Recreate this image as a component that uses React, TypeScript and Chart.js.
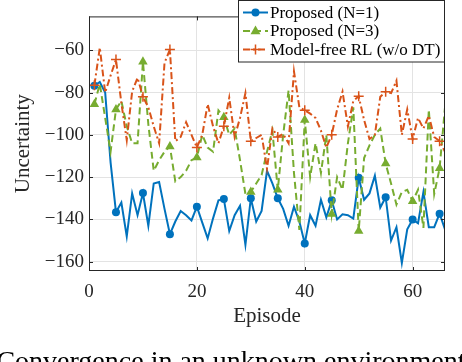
import React, { useEffect, useRef } from 'react';
import { Chart, registerables } from 'chart.js';

Chart.register(...registerables);

const episodes = [
  1, 2, 3, 4, 5, 6, 7, 8, 9, 10, 11, 12, 13, 14, 15, 16, 17, 18, 19, 20, 21, 22,
  23, 24, 25, 26, 27, 28, 29, 30, 31, 32, 33, 34, 35, 36, 37, 38, 39, 40, 41, 42, 43,
  44, 45, 46, 47, 48, 49, 50, 51, 52, 53, 54, 55, 56, 57, 58, 59, 60, 61, 62, 63, 64,
  65, 66,
];

const proposedN1 = [
  -76.8, -75, -80, -113, -136.6, -132, -148, -127.7, -138, -127.5,
  -143, -123, -122.3, -135, -147, -141, -136, -138, -140.5, -134,
  -141.5, -149, -139.5, -131, -130.4, -145.5, -138, -133.6, -152, -130,
  -141, -136, -117, -123, -130, -135, -143, -134, -141, -151.4,
  -138, -143, -130.7, -139, -131, -140, -137.6, -138, -139.6, -120.3,
  -130.7, -127.7, -119.3, -134.4, -129.5, -150, -143.7, -160.6, -144.7, -140,
  -141.8, -127, -143.7, -143.7, -137.3, -144.7,
];

const proposedN3 = [
  -85.5, -76, -92, -108, -88, -84, -96, -104, -104, -65.5,
  -95, -117, -112, -108, -105.5, -122, -120, -117, -112, -110.7,
  -100, -106, -108, -88.5, -91.7, -100, -97, -112, -128, -127,
  -123, -119, -108, -98, -126, -100, -79, -118, -145, -93,
  -120, -104, -118, -100, -137.5, -120, -126, -104, -87, -145.5,
  -111, -105, -100, -97, -113.6, -123, -133, -127, -126, -131.4,
  -126, -144, -88, -128, -115.8, -87,
];

const modelFree = [
  -76.6, -58.8, -80, -72, -64.4, -85, -102.5, -79.5, -73, -82,
  -87, -96, -104, -66, -59.6, -103, -101, -94, -100, -106,
  -100, -85.5, -96, -104, -96, -82.5, -101, -92, -80.3, -103,
  -101.5, -100, -116, -97, -101, -99.6, -104, -70, -87, -88.4,
  -90, -92, -98, -106, -100, -88, -79.6, -96, -84, -81.8,
  -93, -102, -100, -82, -79.6, -80.3, -74.4, -100, -88, -102,
  -92, -97, -91, -101, -103, -108,
];

const markerEpisodes = [1, 5, 10, 15, 20, 25, 30, 35, 40, 45, 50, 55, 60, 65];
const xTicks = [0, 20, 40, 60];
const yTicks = [-160, -140, -120, -100, -80, -60];
const seriesLabels = ['Proposed (N=1)', 'Proposed (N=3)', 'Model-free RL (w/o DT)'];
const xLabel = 'Episode';
const yLabel = 'Uncertainty';
const caption = 'Convergence in an unknown environment';

const BLUE = '#0072BD';
const GREEN = '#77AC30';
const ORANGE = '#D95319';
const INK = '#262626';
const GRID = '#e3e3e3';
const FONT = "'Liberation Serif', 'Times New Roman', serif";

const toPoints = (vals: number[]) => vals.map((v, i) => ({ x: episodes[i], y: v }));
const markerRadius = (r: number) => (ctx: any) =>
  markerEpisodes.includes(episodes[ctx.dataIndex]) ? r : 0;

function drawMarker(ctx: CanvasRenderingContext2D, kind: string, x: number, y: number, color: string) {
  ctx.save();
  ctx.fillStyle = color;
  ctx.strokeStyle = color;
  ctx.setLineDash([]);
  if (kind === 'circle') {
    ctx.beginPath();
    ctx.arc(x, y, 4, 0, Math.PI * 2);
    ctx.fill();
  } else if (kind === 'triangle') {
    const r = 5.5;
    ctx.beginPath();
    ctx.moveTo(x, y - r);
    ctx.lineTo(x + r * 0.9, y + r * 0.6);
    ctx.lineTo(x - r * 0.9, y + r * 0.6);
    ctx.closePath();
    ctx.fill();
  } else {
    ctx.lineWidth = 1.5;
    ctx.beginPath();
    ctx.moveTo(x - 5, y);
    ctx.lineTo(x + 5, y);
    ctx.moveTo(x, y - 5);
    ctx.lineTo(x, y + 5);
    ctx.stroke();
  }
  ctx.restore();
}

const framePlugin = {
  id: 'matlabFrame',
  afterDatasetsDraw(chart: any) {
    const { ctx, chartArea: a, scales } = chart;
    ctx.save();
    ctx.strokeStyle = INK;
    ctx.lineWidth = 1;
    ctx.setLineDash([]);
    ctx.strokeRect(a.left + 0.5, a.top + 0.5, a.right - a.left - 1, a.bottom - a.top - 1);
    const tl = 4;
    ctx.beginPath();
    xTicks.forEach((v) => {
      const px = Math.round(scales.x.getPixelForValue(v)) + 0.5;
      ctx.moveTo(px, a.bottom);
      ctx.lineTo(px, a.bottom - tl);
      ctx.moveTo(px, a.top);
      ctx.lineTo(px, a.top + tl);
    });
    yTicks.forEach((v) => {
      const py = Math.round(scales.y.getPixelForValue(v)) + 0.5;
      ctx.moveTo(a.left, py);
      ctx.lineTo(a.left + tl, py);
      ctx.moveTo(a.right, py);
      ctx.lineTo(a.right - tl, py);
    });
    ctx.stroke();
    ctx.restore();
  },
  afterDraw(chart: any) {
    const { ctx, chartArea: a } = chart;
    ctx.save();
    // legend
    const lx = 238.5;
    const ly = 0.5;
    const lw = a.right - 0.5 - lx;
    const lh = 61.5;
    ctx.fillStyle = '#ffffff';
    ctx.fillRect(lx, ly, lw, lh);
    ctx.strokeStyle = INK;
    ctx.lineWidth = 1;
    ctx.strokeRect(lx, ly, lw, lh);
    const rows = [12.5, 31, 49.5];
    const colors = [BLUE, GREEN, ORANGE];
    const dashes = [[], [7, 4], [7, 3, 2, 3]];
    const markers = ['circle', 'triangle', 'cross'];
    ctx.font = `17px ${FONT}`;
    ctx.textBaseline = 'middle';
    ctx.textAlign = 'left';
    rows.forEach((ry, i) => {
      ctx.strokeStyle = colors[i];
      ctx.lineWidth = 2;
      ctx.setLineDash(dashes[i]);
      ctx.beginPath();
      ctx.moveTo(243, ry);
      ctx.lineTo(268, ry);
      ctx.stroke();
      ctx.setLineDash([]);
      drawMarker(ctx, markers[i], 255.5, ry, colors[i]);
      ctx.fillStyle = '#000000';
      ctx.fillText(seriesLabels[i], 270, ry + 1);
    });
    // caption
    ctx.font = `28px ${FONT}`;
    ctx.fillStyle = '#000000';
    ctx.textAlign = 'center';
    ctx.textBaseline = 'alphabetic';
    ctx.fillText(caption, 231, 370);
    ctx.restore();
  },
};

export default function App() {
  const canvasRef = useRef<HTMLCanvasElement | null>(null);

  useEffect(() => {
    if (!canvasRef.current) return;
    const chart = new Chart(canvasRef.current, {
      type: 'line',
      data: {
        datasets: [
          {
            label: seriesLabels[0],
            data: toPoints(proposedN1),
            borderColor: BLUE,
            backgroundColor: BLUE,
            borderWidth: 2,
            pointStyle: 'circle',
            pointRadius: markerRadius(4),
            pointBackgroundColor: BLUE,
            pointBorderColor: BLUE,
            pointBorderWidth: 0,
            order: 2,
          },
          {
            label: seriesLabels[1],
            data: toPoints(proposedN3),
            borderColor: GREEN,
            backgroundColor: GREEN,
            borderWidth: 2,
            borderDash: [7, 4],
            pointStyle: 'triangle',
            pointRadius: markerRadius(5.5),
            pointBackgroundColor: GREEN,
            pointBorderColor: GREEN,
            pointBorderWidth: 0,
            order: 1,
          },
          {
            label: seriesLabels[2],
            data: toPoints(modelFree),
            borderColor: ORANGE,
            backgroundColor: ORANGE,
            borderWidth: 2,
            borderDash: [7, 3, 2, 3],
            pointStyle: 'cross',
            pointRadius: markerRadius(5),
            pointBackgroundColor: ORANGE,
            pointBorderColor: ORANGE,
            pointBorderWidth: 1.5,
            order: 0,
          },
        ],
      },
      options: {
        animation: false,
        responsive: false,
        maintainAspectRatio: false,
        devicePixelRatio: 1,
        layout: { padding: { left: 0, right: 17, top: 0, bottom: 0 } },
        plugins: {
          legend: { display: false },
          tooltip: { enabled: false },
        },
        scales: {
          x: {
            type: 'linear',
            min: 0,
            max: 66,
            afterBuildTicks: (s: any) => {
              s.ticks = xTicks.map((v) => ({ value: v }));
            },
            afterFit: (s: any) => {
              s.height = 91;
            },
            grid: { color: GRID, lineWidth: 1, drawTicks: false },
            border: { display: false },
            ticks: {
              font: { family: FONT, size: 19 },
              color: INK,
              padding: 10,
              maxRotation: 0,
              autoSkip: false,
            },
            title: {
              display: true,
              text: xLabel,
              font: { family: FONT, size: 21 },
              color: INK,
              padding: { top: 0, bottom: 33 },
            },
          },
          y: {
            type: 'linear',
            min: -164.4,
            max: -44,
            afterBuildTicks: (s: any) => {
              s.ticks = yTicks.map((v) => ({ value: v }));
            },
            afterFit: (s: any) => {
              s.width = 89;
            },
            grid: { color: GRID, lineWidth: 1, drawTicks: false },
            border: { display: false },
            ticks: {
              font: { family: FONT, size: 19 },
              color: INK,
              padding: 5,
              autoSkip: false,
              callback: (v: any) => (v < 0 ? '\u2212' + Math.abs(v) : String(v)),
            },
            title: {
              display: true,
              text: yLabel,
              font: { family: FONT, size: 21 },
              color: INK,
              padding: { top: 11, bottom: 0 },
            },
          },
        },
      },
      plugins: [framePlugin],
    });
    return () => chart.destroy();
  }, []);

  return (
    <div style={{ position: 'fixed', left: 0, top: 0, width: 462, height: 362, background: '#fff' }}>
      <canvas ref={canvasRef} width={462} height={362} style={{ width: 462, height: 362, display: 'block' }} />
    </div>
  );
}
